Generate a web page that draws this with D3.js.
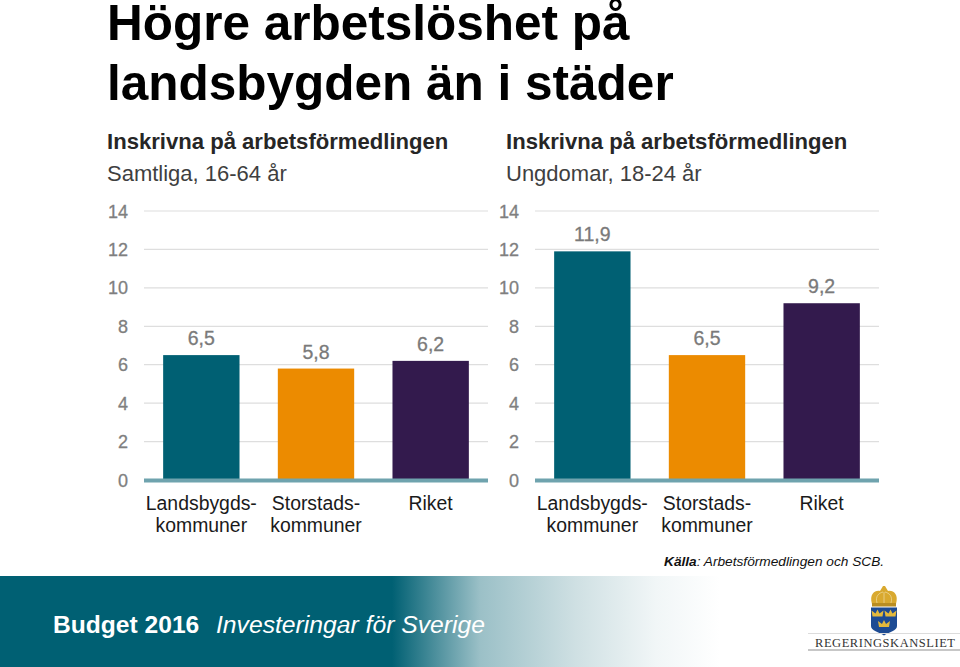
<!DOCTYPE html>
<html><head><meta charset="utf-8">
<script src="https://cdn.jsdelivr.net/npm/d3@7/dist/d3.min.js"></script>
<style>html,body{margin:0;padding:0;background:#fff}svg{display:block;font-family:"Liberation Sans",Arial,sans-serif}</style>
</head><body><svg id="c" width="960" height="667"></svg>
<script>
const categories = [["Landsbygds-","kommuner"],["Storstads-","kommuner"],["Riket"]];
const allValues = [6.5, 5.8, 6.2];
const youthValues = [11.9, 6.5, 9.2];
const tickValues = [0,2,4,6,8,10,12,14];
const barColors = ["#006073","#ec8b00","#331a4d"];

const svg = d3.select("#c");
const defs = svg.append("defs");
const g = defs.append("linearGradient").attr("id","band");
[[0,"#006073"],[0.49,"#006073"],[0.60,"#9bc0c7"],[0.72,"#cfe0e3"],[0.82,"#f1f6f7"],[0.90,"#ffffff"]]
  .forEach(([o,c])=>g.append("stop").attr("offset",o).attr("stop-color",c));

const y = d3.scaleLinear().domain([0,14]).range([480,211]);
const fmt = v => String(v).replace(".",",");

function panel(values, x0, x1, tickX, axisEnd){
  const gp = svg.append("g");
  const x = d3.scaleBand().domain(d3.range(values.length)).range([x0,x1]).paddingInner(0.334).paddingOuter(0.167);
  gp.selectAll(".grid").data(tickValues.slice(1)).join("line")
    .attr("x1",tickX+16).attr("x2",axisEnd).attr("y1",d=>y(d)).attr("y2",d=>y(d))
    .attr("stroke","#dedede").attr("stroke-width",1.2);
  gp.selectAll(".tick").data(tickValues).join("text")
    .attr("x",tickX).attr("y",d=>y(d)+6.5).attr("text-anchor","end")
    .attr("font-size",18).attr("fill","#7f7f7f").attr("stroke","#7f7f7f").attr("stroke-width",0.3).text(d=>d);
  gp.selectAll(".bar").data(values).join("rect")
    .attr("x",(d,i)=>x(i)).attr("width",x.bandwidth())
    .attr("y",d=>y(d)).attr("height",d=>y(0)-y(d)).attr("fill",(d,i)=>barColors[i]);
  gp.append("line").attr("x1",tickX+16).attr("x2",axisEnd).attr("y1",y(0)+0.5).attr("y2",y(0)+0.5)
    .attr("stroke","#6fa3ae").attr("stroke-width",4);
  gp.selectAll(".val").data(values).join("text")
    .attr("x",(d,i)=>x(i)+x.bandwidth()/2).attr("y",d=>y(d)-10).attr("text-anchor","middle")
    .attr("font-size",19.5).attr("fill","#7a7a7a").attr("stroke","#7a7a7a").attr("stroke-width",0.3).text(fmt);
  gp.selectAll(".cat").data(categories).join("text")
    .attr("text-anchor","middle").attr("font-size",19.4).attr("fill","#1a1a1a")
    .each(function(d,i){
      d3.select(this).selectAll("tspan").data(d).join("tspan")
        .attr("x",x(i)+x.bandwidth()/2).attr("y",(t,k)=>510+k*22).text(t=>t);
    });
}
panel(allValues,144,488,128,488);
panel(youthValues,535,879,519,879);

function txt(s,x,yy,size,opts={}){
  return svg.append("text").attr("x",x).attr("y",yy).attr("font-size",size)
    .attr("fill",opts.fill||"#000").attr("font-weight",opts.weight||null)
    .attr("font-style",opts.style||null).text(s);
}
txt("Högre arbetslöshet på",107,40,49.5,{weight:"bold"});
txt("landsbygden än i städer",107,99.5,49.5,{weight:"bold"});
txt("Inskrivna på arbetsförmedlingen",107,149,22.1,{weight:"bold",fill:"#262626"});
txt("Samtliga, 16-64 år",107,181,22,{fill:"#3f3f3f"});
txt("Inskrivna på arbetsförmedlingen",506,149,22.1,{weight:"bold",fill:"#262626"});
txt("Ungdomar, 18-24 år",506,181,22,{fill:"#3f3f3f"});

const src = svg.append("text").attr("x",664).attr("y",566).attr("font-size",13.7).attr("fill","#111");
src.append("tspan").attr("font-weight","bold").attr("font-style","italic").text("Källa");
src.append("tspan").attr("font-style","italic").text(": Arbetsförmedlingen och SCB.");

svg.append("rect").attr("x",0).attr("y",576).attr("width",800).attr("height",91).attr("fill","url(#band)");
txt("Budget 2016",53,633,24.6,{weight:"bold",fill:"#fff"});
txt("Investeringar för Sverige",216,633,24.7,{style:"italic",fill:"#fff"});

// Logo
const logo = svg.append("g");
logo.append("path").attr("fill","#d9a92f")
  .attr("d","M872 604 C869 594 875 590 880 591 C881 589 882 588 883 586 L885 586 C886 588 887 589 888 591 C893 590 899 594 896 604 Z");
logo.append("path").attr("fill","#f4e6b8").attr("stroke","#f4e6b8").attr("stroke-width",0.6)
  .attr("d","M877 603 C875 596 879 593 883 592 M891 603 C893 596 889 593 885 592 M884 603 V592").attr("fill-opacity",0);
logo.append("rect").attr("x",872).attr("y",603).attr("width",24).attr("height",3.5).attr("fill","#b98d22");
logo.append("path").attr("fill","#1d4b93")
  .attr("d","M871 607.5 H897 V626 C897 631 889 632 884 635.5 C879 632 871 631 871 626 Z");
[[877.5,613.5],[890.5,613.5],[884,624]].forEach(([cx,cy])=>{
  logo.append("path").attr("fill","#e3b93c")
    .attr("d",`M${cx-5} ${cy+3} L${cx-6} ${cy-3} L${cx-2} ${cy} L${cx} ${cy-4} L${cx+2} ${cy} L${cx+6} ${cy-3} L${cx+5} ${cy+3} Z`);
});
logo.append("line").attr("x1",808).attr("x2",960).attr("y1",633.5).attr("y2",633.5).attr("stroke","#dcdcdc");
logo.append("line").attr("x1",808).attr("x2",960).attr("y1",650).attr("y2",650).attr("stroke","#b5b5b5").attr("stroke-width",1.5);
svg.append("text").attr("x",815).attr("y",646.5).attr("font-size",12.5).attr("font-family","'Liberation Serif',serif")
  .attr("fill","#333").attr("textLength",140).attr("lengthAdjust","spacing").text("REGERINGSKANSLIET");
</script></body></html>
